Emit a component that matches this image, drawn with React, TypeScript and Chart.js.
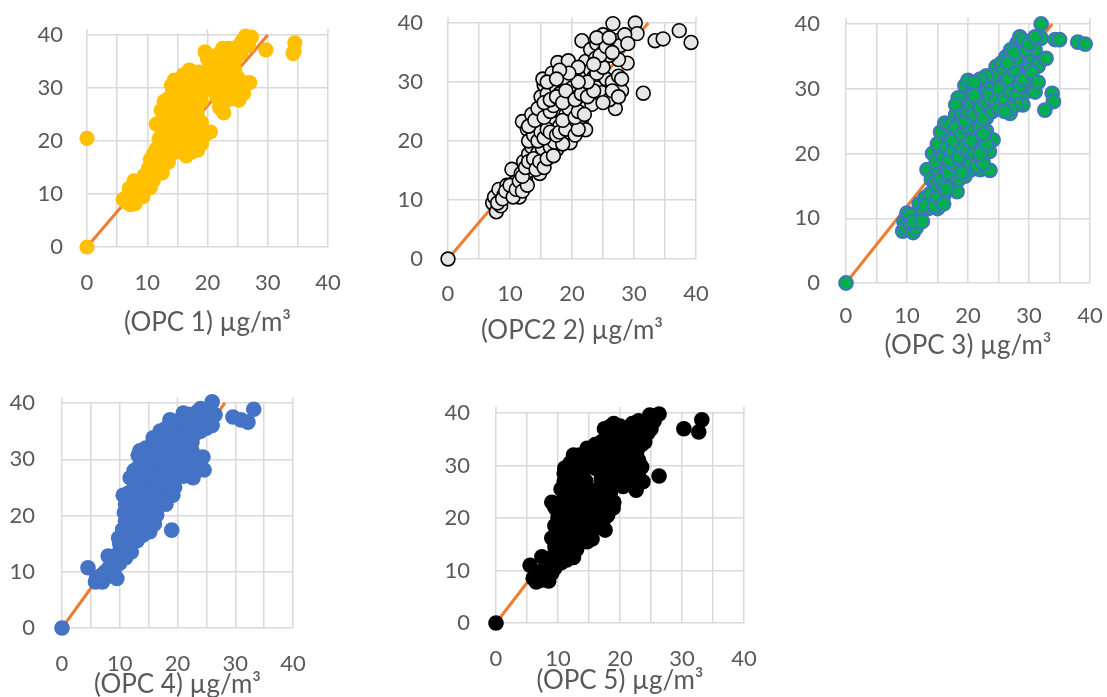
import React, { useEffect, useRef } from 'react';
import { Chart, registerables } from 'chart.js';

Chart.register(...registerables);

type Pt = [number, number];

// ---------- data ----------
const yTickValues = [0, 10, 20, 30, 40];
const xTickLabels = [0, 10, 20, 30, 40];
const topStubValues = [0, 20, 40];

const opc1Points: Pt[] = [
  [0, 0], [0, 20.5],
  [6, 9], [6.5, 8.5], [7, 9.8], [7.2, 8], [7.5, 10.5], [8, 8.2], [8.3, 9.3], [7.8, 12.5], [8.8, 10], [9.3, 9.5],
  [9, 11.5], [9.8, 12], [10, 13.3], [10.5, 11.2], [11, 12.5], [10.2, 14.8], [11.5, 13.8], [12, 15], [10.5, 16.5],
  [11, 15.8], [12.5, 14], [11.8, 17], [12.8, 16.5], [13.5, 16], [11.5, 18.5], [12.2, 18.8], [13, 18], [14, 17.5],
  [14.5, 19], [15.5, 18], [16.5, 17.2], [17.5, 18], [18.4, 18.3], [13, 20.5], [14, 21], [15, 20], [16, 21.5],
  [17, 20.5], [18, 20.8], [19, 19.5], [20.5, 21.7], [11.5, 23.2], [12.5, 22.5], [13.5, 23.5], [14.5, 24.5],
  [15.5, 23], [16.5, 24], [17.5, 23.8], [18.5, 22.5], [12.3, 25.8], [13, 26.5], [13.8, 25], [14.8, 27], [15.5, 26],
  [16.5, 27.5], [17.5, 26.5], [18.3, 25.5], [13.5, 28], [14.2, 29.5], [15, 30.5], [15.5, 28.5], [16.3, 31.2],
  [17, 29.8], [18, 30.5], [18.8, 28.5], [14.5, 31.5], [15.8, 32], [17.3, 32.5], [17, 33.4], [18.5, 33], [19.5, 31.5],
  [20.2, 33.8], [19.6, 36.8], [21.5, 34.5], [22, 36.5], [22.8, 35.5], [23.5, 37.5], [24, 36.8], [24.5, 35], [25, 37.8],
  [25.7, 38.8], [26.3, 39.8], [27.3, 39.6], [26.8, 38], [29.7, 37.2], [34.2, 36.5], [34.5, 38.5], [34.4, 37],
  [21, 30], [21.5, 28.5], [22, 26.3], [22.7, 25.3], [23, 27.5], [23.5, 29.2], [24, 31], [25.2, 27.7], [25.5, 30],
  [26, 29], [27, 31], [23.5, 32.5], [24.5, 33.5], [25, 32], [22.5, 31.5], [21, 32],
  [7, 11], [8.5, 11], [9.5, 13.5], [10.5, 13], [11, 14.5], [12, 16], [13, 17], [11, 17.5], [12.5, 19.5], [13.5, 19],
  [14.5, 18], [15.5, 19.5], [16.5, 19], [17.5, 19.5], [12, 20.5], [13.5, 21.5], [14.5, 22], [15.5, 21], [16.5, 22.5],
  [17.5, 21.5], [18.5, 20.5], [19.5, 21], [12.5, 24], [14, 23], [15, 24.5], [16, 23.5], [17, 25], [18, 24], [19, 23.5],
  [13.5, 26.5], [14.5, 25.5], [15.5, 27.5], [16, 25], [17, 26], [18, 27], [12.8, 27.5], [14, 27.5], [15, 29], [16, 29.5],
  [17, 28], [18, 29], [19, 27.5], [19.5, 29.5], [14, 30.5], [15.5, 31], [16.5, 30], [17.5, 31], [18.5, 31.5], [19, 30],
  [16, 32.5], [18, 32], [19, 32.5], [20.5, 32], [21, 35], [20, 35.5], [23, 34.5], [23, 33], [21.5, 33.5], [24, 34],
  [22, 27.5], [22.5, 29.5], [24, 28], [25, 29], [26, 31], [24.5, 30], [23, 30.5], [20.5, 36], [22.5, 37.5], [25.5, 36.5],
  [27, 39.5],
];
const opc1Fit: Pt[] = [[0, 0], [30, 40]];

const opc2Points: Pt[] = [
  [0, 0],
  [7.2, 9.5], [7.8, 8], [7.5, 10.5], [8.2, 11.8], [8.5, 9], [9, 10.8], [9.5, 12.5], [10, 11], [10.3, 15.2], [10.8, 13],
  [11.5, 10.5], [11.2, 12.3], [11.8, 14.5], [12.2, 16.5], [12.5, 13.5], [13, 17.8], [13.2, 15], [13.5, 19], [14, 16],
  [14.5, 18], [14.8, 14.5], [15.5, 17], [15.8, 19.5], [16.2, 18.2], [16.8, 20.5], [17.5, 18.5], [18, 20], [19.7, 19.7],
  [12, 23.3], [12.8, 22], [13.5, 24.5], [14, 21], [14.5, 23], [15, 25], [15.5, 22.5], [16, 26.2], [16.5, 24], [17, 23],
  [17.5, 25.5], [18, 22.5], [18.5, 21], [19, 24.5], [19.5, 23], [20, 25], [20.5, 22.8], [21.5, 23.5], [22.2, 21.9],
  [15, 27.5], [15.5, 29.5], [16, 28], [16.5, 30.5], [17, 27], [17.5, 29], [18, 28], [18.5, 31], [19, 30], [19.5, 27.5],
  [20, 29], [20.5, 31.5], [20.1, 32.5], [15.3, 30.5], [16.8, 31.5], [17.7, 33.3], [19.4, 33.6], [21.8, 30.5],
  [22.2, 33.5], [23, 32], [23.5, 30.8], [24, 29], [24.8, 28.2], [23.2, 26.2], [25.5, 30.5], [26.5, 30], [27, 25.5],
  [28, 28.5], [27.5, 31], [26, 27], [25, 26.5], [22, 29], [21, 27.5], [28.9, 33.2], [27.5, 33.8], [21.6, 37], [23, 35.5],
  [24, 36.5], [25, 35], [25, 38], [26.6, 39.9], [27.2, 37], [27.8, 36.2], [30.2, 40], [30.5, 38.2], [31.5, 28.1],
  [33.4, 37], [34.7, 37.3], [37.3, 38.7], [39.2, 36.7], [23.8, 34], [26, 34.5],
  [8, 9.5], [8.8, 10.2], [9.3, 11.5], [10, 12.5], [10.5, 10.5], [11, 11.8], [11.5, 13.2], [12, 11.5], [12.8, 12.5],
  [12, 14], [12.5, 15.5], [13, 16.5], [13.8, 17], [14.2, 15.2], [14.8, 16.5], [15.2, 18.8], [15.5, 15.5], [16, 17],
  [16.5, 19], [17, 17.5], [17.2, 19.8], [18.5, 19.5], [13, 20], [13.8, 21], [14.5, 20], [15, 21.5], [15.5, 20.5],
  [16, 22], [16.5, 21.5], [17.5, 21], [18, 21.5], [19, 22], [20.5, 21], [21, 22], [13, 22.5], [14, 23.5], [14.5, 25.5],
  [15.5, 24], [16.5, 25], [17, 26], [18.5, 23.5], [19.5, 25.5], [20.5, 24], [21, 25], [22, 24.5], [15.5, 26.5],
  [16.5, 27], [17.5, 27.5], [18.5, 26.5], [19, 28.5], [20.5, 27], [21.5, 28], [22.5, 27.5], [23.5, 28.5], [22.5, 30],
  [21, 30], [21, 32.5], [19.5, 31.5], [18, 32], [16, 30], [17.5, 30.5], [24, 31.5], [25, 32.5], [26.5, 28.5],
  [27.5, 27.5], [28, 30.5], [24.5, 34.5], [25.5, 36], [26.5, 35], [24, 37.5], [23.5, 33], [28.5, 38], [29, 36.5],
  [26, 37.5],
];
const opc2Fit: Pt[] = [[0, 0], [32.3, 40]];

const opc3Points: Pt[] = [
  [0, 0],
  [9.3, 8], [9.5, 9.5], [10, 10.8], [9.8, 8.5], [10.5, 9], [11, 7.8], [11.5, 8.5], [11.8, 10.3], [12, 12.2], [12.5, 11],
  [13, 13.2], [13.5, 11.5], [14, 12.8], [14.5, 14.2], [15, 11.5], [15.5, 12.8], [16, 13.5], [13.3, 17.5], [14, 16],
  [14.2, 20], [15, 17.8], [15.5, 20.5], [16, 16.5], [16.5, 18], [17, 15.5], [17.5, 16.2], [18.2, 14.1], [18, 17.5],
  [19, 18.5], [19.5, 16.5], [20, 19.5], [20.5, 17.5], [21, 18.8], [22, 17.5], [23.6, 17.4], [15.5, 23.3], [16.2, 24.7],
  [16.8, 22], [17.5, 23.5], [18, 26], [18.5, 22.5], [19, 24.5], [19.5, 21.5], [20, 23], [20.5, 21], [21, 22.8],
  [21.5, 25], [22, 22.5], [22.5, 21], [23, 23.5], [24.1, 22.1], [23.5, 20.3], [18.4, 28.6], [19, 27], [19.5, 30.5],
  [20, 31.3], [20.5, 29], [21, 27.5], [21.5, 30.5], [22, 28.5], [22.5, 31], [23, 29.5], [23.5, 27], [24, 30.5],
  [24.6, 33.4], [25, 31.5], [25.5, 29], [26, 32.5], [26.2, 34.9], [26.5, 30], [26.9, 26.2], [26.5, 27.8], [27.5, 31.5],
  [27, 33.5], [27.5, 28], [28, 30.2], [28.5, 32], [28, 37], [28.5, 38], [29, 35.5], [29.5, 33], [29.5, 29.5], [30, 31],
  [30.2, 30.3], [31, 29.5], [30.5, 34.5], [31, 36], [31.5, 33.5], [32, 37.8], [32, 40], [32.8, 34.7], [33.8, 29.3],
  [34, 28], [32.6, 26.7], [34.3, 37.6], [35, 37.6], [38, 37.2], [39.2, 36.9], [25.5, 34], [30.5, 31.5], [27, 36],
  [10.5, 10.5], [11, 9.5], [12.5, 9.5], [13, 12], [13.8, 13.8], [14.5, 12], [15, 13.5], [16, 12.2], [14.5, 15.5],
  [15, 15], [15.5, 16], [16, 15], [16.5, 14.5], [16.8, 17], [17.5, 18.5], [18.5, 16], [19, 17], [19.5, 19.8],
  [20.5, 18.5], [21.5, 18], [22.5, 18.5], [14.8, 18.8], [15, 21.5], [16, 19.5], [16.5, 21], [17, 19], [17.5, 20.5],
  [18.5, 19.5], [19, 21], [20, 20.5], [21, 20], [22, 20], [23, 21.5], [17, 24.5], [17.5, 22], [18, 24], [19, 23],
  [20, 24], [20.5, 22], [21, 24], [22, 24], [22.5, 23], [23, 25.5], [18, 27.5], [19, 26], [19.5, 25], [20, 26.5],
  [20.5, 27.5], [21, 26], [21.5, 28.5], [22, 27], [22.5, 25.5], [23, 28], [23.5, 29], [24, 26.5], [24.5, 28], [25, 27],
  [25, 30], [25.5, 32.5], [26, 28.5], [26.5, 31.5], [27, 29.5], [27.5, 33], [28, 29], [28.5, 30.5], [29, 31.5],
  [29, 27.5], [28, 27.5], [27, 27], [26, 26.5], [28, 34.5], [29.5, 36], [30, 33], [30.5, 32.5], [31.5, 31],
  [27.5, 35.5], [29, 37.5], [30, 37], [31, 38], [26.5, 34], [24, 32], [23, 32], [21, 29], [22, 31.5], [21, 31],
];
const opc3Fit: Pt[] = [[0, 0], [33.8, 40]];

const opc4Points: Pt[] = [
  [0, 0], [4.5, 10.7], [5.8, 8.2], [6.5, 9], [7, 8.2], [7.5, 10], [8, 9.2], [8.5, 11.5], [9, 10.2], [9.5, 8.8], [8, 12.8],
  [9.5, 13], [10, 11.5], [10.5, 14.5], [11, 12.5], [11.5, 15], [12, 13.5], [9.8, 16], [10.5, 17.5], [11, 16],
  [11.5, 18.5], [12, 16.8], [12.5, 17.5], [13, 15.5], [13.5, 17], [14, 18], [15.2, 17.1], [10.8, 20.5], [11.5, 19.5],
  [12, 21.5], [12.5, 20], [13, 22], [13.5, 19.5], [14, 21], [14.5, 20], [15, 22], [15.5, 21], [16.4, 20.1], [10.6, 23.6],
  [11.5, 24], [12, 23], [12.5, 25], [13, 24.5], [13.5, 23], [14, 25.5], [14.5, 24], [15, 26], [15.5, 25], [16, 23.5],
  [16.5, 25.5], [17, 24], [18, 24.5], [19.2, 23.6], [11.8, 26.7], [12.5, 28], [13, 27], [13.2, 30.7], [13.5, 29],
  [14, 28], [14.5, 30], [15, 28.5], [15.5, 30.5], [16, 29], [16.5, 31], [17, 28], [17.5, 30], [18, 27.5], [18.5, 29],
  [19, 31], [19.5, 28], [20, 30.5], [20.5, 28.5], [21, 30], [22.7, 26.7], [21.5, 27.5], [24.6, 28.1], [24.4, 30.4],
  [15.8, 33.8], [16.5, 32.5], [17, 33.5], [17.5, 32], [18, 34], [18.5, 32.5], [19, 33], [19.5, 35], [20, 33.5],
  [20.5, 34.5], [21, 32.5], [22, 33], [22.5, 31.5], [18.7, 37], [20, 36.5], [21, 38.2], [21.5, 36], [22.5, 35.5],
  [23, 37], [24, 36], [24.5, 37.5], [25, 38.5], [26, 36], [26.5, 37.9], [26, 40.2], [29.6, 37.5], [31, 37], [32.2, 36.6],
  [33.2, 38.9], [19, 17.4],
  [6, 9], [7, 9.5], [8, 10.5], [9, 12], [10, 13], [11, 14], [12, 15], [13, 16.5], [14, 16.5], [10, 15], [11.5, 17],
  [12.5, 19], [13.5, 18.5], [14.5, 17.5], [15.5, 19], [16, 18.5], [11, 19], [12, 20], [13, 21], [14, 22.5], [15, 23],
  [16, 22], [17, 22.5], [18, 22], [11, 22], [12, 22.5], [13.5, 24], [14.5, 23], [15.5, 24], [16.5, 24], [17.5, 25.5],
  [18.5, 26], [19.5, 25], [12.5, 26], [13.5, 26.5], [14.5, 27.5], [15.5, 27], [16.5, 27], [17.5, 27], [19, 26.5],
  [20, 27], [21, 27], [22, 28], [23, 28.5], [23.5, 29.5], [22.5, 30], [22, 31], [13.5, 31.5], [14.5, 32], [15, 31],
  [16, 32], [17.5, 33.5], [19, 34], [20, 32], [21.5, 34], [22.5, 33], [23, 34.5], [24, 35], [25, 35.5], [19, 36],
  [20.5, 37], [22, 36.5], [22, 38], [23.5, 38.5], [25.5, 39], [24, 39], [17, 35], [18, 35.5],
];
const opc4Fit: Pt[] = [[0, 0], [28.2, 40]];

const opc5Points: Pt[] = [
  [0, 0], [5.5, 11], [6, 8.5], [6.5, 7.8], [7, 9.5], [7.5, 8.2], [8, 9.2], [8.5, 8], [7.4, 12.6], [8.5, 11], [9, 12.5],
  [9.5, 10.5], [10, 13], [10.5, 11.5], [11.4, 12], [9, 16.2], [9.5, 14.5], [10, 17.5], [10.5, 15.5], [11, 18.5],
  [11.5, 16], [12, 17], [12.5, 14.5], [13, 16.5], [13.5, 18], [14, 17], [14.7, 15.5], [15.5, 17.5], [16.5, 18.5],
  [17.6, 17.7], [9, 23], [10, 21], [10.5, 19.5], [11, 22.5], [11.5, 20.5], [12, 24], [12.5, 21.5], [13, 19.5],
  [13.5, 22.5], [14, 20.5], [14.5, 23.5], [15, 21], [15.5, 22.5], [16, 20.5], [17, 21.5], [18, 22.5], [18.9, 21.9],
  [10.5, 25.5], [11, 27], [11.5, 26], [12, 28.5], [12.5, 25], [13, 27.5], [13.5, 26], [14, 28], [14.5, 25.5],
  [16.5, 25.5], [17.5, 26.5], [18.5, 25], [19.5, 27], [20.5, 26], [21.5, 27.5], [22.6, 25.3], [23.7, 26.9], [11.1, 29.5],
  [12, 30.5], [12.6, 31.1], [13.5, 30], [14, 29], [15, 30.5], [16, 29.5], [17, 28.5], [18, 30], [19, 29], [20, 30.5],
  [21, 29], [22, 28.5], [23.5, 29.7], [14.7, 33.3], [15.5, 32], [16.5, 33], [17.5, 31.5], [18, 33.5], [19, 32.5],
  [20, 33], [21, 32], [22.7, 32.6], [17.5, 37], [18.5, 37.5], [19.5, 36.5], [19.5, 35], [20.5, 34.5], [21.5, 35.5],
  [22.5, 34.5], [23, 36.5], [24.5, 36.2], [24, 38], [24.8, 39.6], [26.3, 39.8], [25.5, 38.5], [26.3, 28], [30.3, 37],
  [32.7, 36.4], [33.2, 38.7],
  [6.5, 9], [7.5, 10], [8, 10.5], [9, 9.5], [9.5, 12], [10, 14.5], [10.5, 13], [11, 14], [11.5, 13.5], [12, 15],
  [12.5, 12.5], [13, 14], [13.5, 15.5], [14.5, 16.5], [15.5, 16], [16, 19], [17, 19.5], [17.5, 20], [9.5, 18.5],
  [10, 20], [9.5, 22], [10.5, 23], [11, 24.5], [11.5, 23], [12.5, 23], [13, 24.5], [13.5, 20.5], [14, 22], [15, 24],
  [15.5, 19.5], [16.5, 22.5], [17, 23.5], [18, 20.5], [19, 23], [16, 24], [11, 28.5], [12, 26.5], [13, 29], [14.5, 27],
  [17, 27.5], [18, 28], [19, 27.5], [20, 28], [21, 28], [22, 27], [23, 28], [12.5, 32], [13.5, 32], [14, 31],
  [15, 32.5], [16, 31], [17, 30], [18, 31.5], [19, 31], [20, 32], [21, 30.5], [22, 30], [23, 31], [16, 34], [17, 34.5],
  [18, 35], [19, 34], [21, 34], [22, 33.5], [23.5, 34], [21, 37], [22, 38], [23, 38.5], [20, 37.5], [24, 34.5],
  [25, 37], [19, 38],
];
const opc5Fit: Pt[] = [[0, 0], [26.1, 40]];

const panelTitles = ['(OPC 1) µg/m³', '(OPC2 2) µg/m³', '(OPC 3) µg/m³', '(OPC 4) µg/m³', '(OPC 5) µg/m³'];

// ---------- layout / style ----------
const FONT = 'Lato, "Open Sans", sans-serif';
const TEXT = '#595959';
const GRID = '#D9D9D9';
const FIT_COLOR = '#ED7D31';
const WY = 60;
const HX = 110;
const PT = 12;
const PR = 20;
const TICK_SIZE = 22;
const TITLE_SIZE = 26;

interface PanelCfg {
  points: Pt[];
  fit: Pt[];
  title: string;
  L: number; R: number; T: number; B: number;
  yPad: number; xPad: number; titleY: number;
  fill: string; stroke: string; strokeW: number; radius: number;
}

const panels: PanelCfg[] = [
  { points: opc1Points, fit: opc1Fit, title: panelTitles[0], L: 87, R: 328, T: 35, B: 247, yPad: 24, xPad: 23, titleY: 323, fill: '#FFC000', stroke: '#FFC000', strokeW: 0, radius: 7.6 },
  { points: opc2Points, fit: opc2Fit, title: panelTitles[1], L: 448, R: 696, T: 23, B: 259, yPad: 25, xPad: 22, titleY: 331, fill: '#E7E6E6', stroke: '#000000', strokeW: 1.6, radius: 6.9 },
  { points: opc3Points, fit: opc3Fit, title: panelTitles[2], L: 846, R: 1090, T: 24, B: 283, yPad: 26, xPad: 20, titleY: 346, fill: '#00B050', stroke: '#4472C4', strokeW: 2, radius: 6.9 },
  { points: opc4Points, fit: opc4Fit, title: panelTitles[3], L: 62, R: 293, T: 403, B: 628, yPad: 27, xPad: 23, titleY: 685, fill: '#4472C4', stroke: '#4472C4', strokeW: 0, radius: 7.8 },
  { points: opc5Points, fit: opc5Fit, title: panelTitles[4], L: 496, R: 744, T: 413, B: 623, yPad: 26, xPad: 23, titleY: 681, fill: '#000000', stroke: '#000000', strokeW: 0, radius: 7.8 },
];

const stubPlugin = {
  id: 'topStubs',
  beforeDatasetsDraw(chart: any) {
    const { ctx, chartArea, scales } = chart;
    ctx.save();
    ctx.strokeStyle = GRID;
    ctx.lineWidth = 1.5;
    topStubValues.forEach((v) => {
      const x = scales.x.getPixelForValue(v);
      ctx.beginPath();
      ctx.moveTo(x, chartArea.top - 6);
      ctx.lineTo(x, chartArea.top);
      ctx.stroke();
    });
    ctx.restore();
  },
};

function Panel({ cfg }: { cfg: PanelCfg }) {
  const ref = useRef<HTMLCanvasElement | null>(null);
  const width = cfg.R - cfg.L + WY + PR;
  const height = cfg.B - cfg.T + PT + HX;
  useEffect(() => {
    if (!ref.current) return;
    const titleLH = TITLE_SIZE * 1.2;
    const pb = cfg.B + HX - titleLH / 2 - cfg.titleY;
    const chart = new Chart(ref.current, {
      type: 'scatter',
      data: {
        datasets: [
          {
            data: cfg.points.map(([x, y]) => ({ x, y })),
            backgroundColor: cfg.fill,
            borderColor: cfg.stroke,
            borderWidth: cfg.strokeW,
            pointRadius: cfg.radius,
            pointHoverRadius: cfg.radius,
            clip: false,
            order: 0,
          } as any,
          {
            data: cfg.fit.map(([x, y]) => ({ x, y })),
            showLine: true,
            borderColor: FIT_COLOR,
            backgroundColor: FIT_COLOR,
            borderWidth: 3,
            pointRadius: 0,
            pointHoverRadius: 0,
            clip: false,
            order: 1,
          } as any,
        ],
      },
      options: {
        animation: false,
        responsive: false,
        devicePixelRatio: 1,
        events: [],
        layout: { padding: { top: PT, right: PR, left: 0, bottom: 0 } },
        plugins: { legend: { display: false }, tooltip: { enabled: false } },
        scales: {
          x: {
            type: 'linear',
            position: 'bottom',
            min: 0,
            max: 40,
            ticks: {
              stepSize: 5,
              autoSkip: false,
              maxRotation: 0,
              padding: cfg.xPad,
              color: TEXT,
              font: { family: FONT, size: TICK_SIZE },
              callback: (v: any) => (xTickLabels.includes(Number(v)) ? String(v) : ''),
            },
            grid: { color: GRID, lineWidth: 1.5, drawTicks: false },
            border: { display: false },
            title: {
              display: true,
              text: cfg.title,
              color: TEXT,
              font: { family: FONT, size: TITLE_SIZE },
              padding: { top: 0, bottom: pb },
            },
            afterFit: (s: any) => {
              s.height = HX;
              s.paddingLeft = 0;
              s.paddingRight = 0;
            },
          },
          y: {
            type: 'linear',
            min: 0,
            max: 40,
            afterBuildTicks: (s: any) => {
              s.ticks = yTickValues.map((v) => ({ value: v }));
            },
            ticks: {
              stepSize: 10,
              padding: cfg.yPad,
              color: TEXT,
              font: { family: FONT, size: TICK_SIZE },
            },
            grid: { color: GRID, lineWidth: 1.5, drawTicks: false },
            border: { display: false },
            afterFit: (s: any) => {
              s.width = WY;
              s.paddingTop = 0;
              s.paddingBottom = 0;
            },
          },
        },
      } as any,
      plugins: [stubPlugin],
    });
    return () => chart.destroy();
  }, [cfg]);
  return (
    <canvas
      ref={ref}
      width={width}
      height={height}
      style={{ position: 'absolute', left: cfg.L - WY, top: cfg.T - PT, width, height }}
    />
  );
}

export default function App() {
  return (
    <div
      style={{
        position: 'absolute',
        left: 0,
        top: 0,
        width: 1107,
        height: 697,
        overflow: 'hidden',
        background: '#ffffff',
      }}
    >
      {panels.map((p, i) => (
        <Panel key={i} cfg={p} />
      ))}
    </div>
  );
}
